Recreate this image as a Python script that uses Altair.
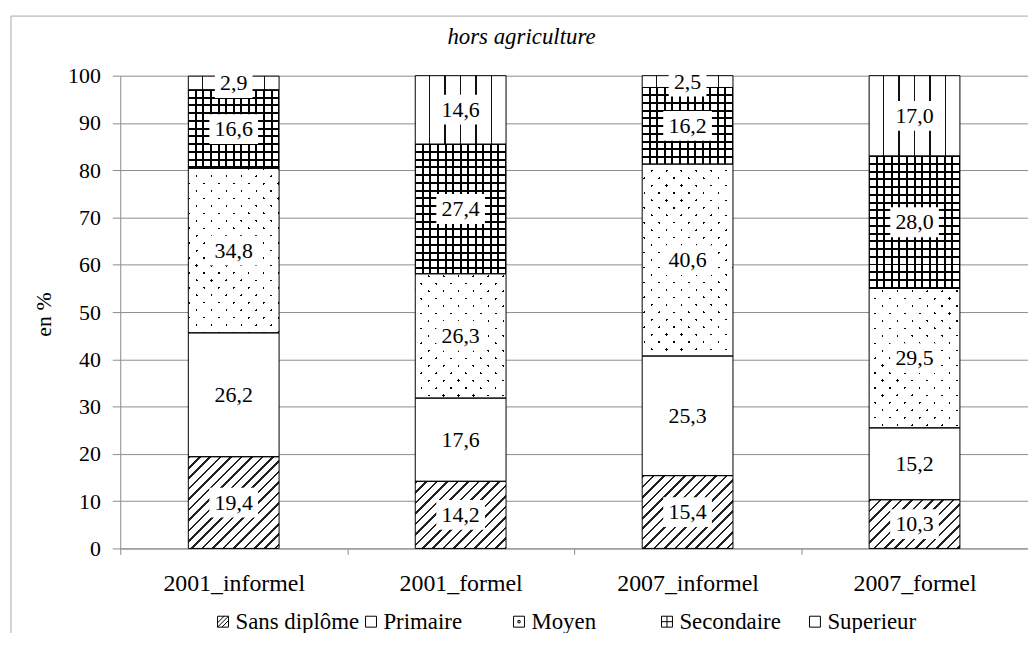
import math
import altair as alt
import pandas as pd

# ---------------- data ----------------
groupes = ["2001_informel", "2001_formel", "2007_informel", "2007_formel"]
niveaux = ["Sans diplôme", "Primaire", "Moyen", "Secondaire", "Superieur"]
sans_diplome = [19.4, 14.2, 15.4, 10.3]
primaire = [26.2, 17.6, 25.3, 15.2]
moyen = [34.8, 26.3, 40.6, 29.5]
secondaire = [16.6, 27.4, 16.2, 28.0]
superieur = [2.9, 14.6, 2.5, 17.0]
y_ticks = [0, 10, 20, 30, 40, 50, 60, 70, 80, 90, 100]
titre = "hors agriculture"
titre_y = "en %"

series = [sans_diplome, primaire, moyen, secondaire, superieur]
rows = []
for gi, g in enumerate(groupes):
    base = 0.0
    for ni, n in enumerate(niveaux):
        v = series[ni][gi]
        rows.append(dict(groupe=g, niveau=n, valeur=v, y0=round(base, 3), y1=round(base + v, 3)))
        base += v
df = pd.DataFrame(rows)

# ---------------- layout / style ----------------
GRAY = "#8c8c8c"
FONT = "Liberation Serif"
PLOT_W, PLOT_H = 914, 476
BAR_FRAC = 0.4
BAR_PX = PLOT_W / len(groupes) * BAR_FRAC
PX_PER_UNIT = PLOT_H / 100.0
CLEAR_W = "rgba(255,255,255,0)"
CLEAR_K = "rgba(0,0,0,0)"


def band_stops(n, duty, on, off, phase=0.0):
    st = [(0.0, off)]
    i = math.floor(-phase) - 1
    while True:
        a = (i + phase) / n
        b = (i + phase + duty) / n
        i += 1
        if a >= 1:
            break
        if b <= 0:
            continue
        a = max(a, 0.0)
        b = min(b, 1.0)
        st += [(a, off), (a, on), (b, on), (b, off)]
    st.append((1.0, off))
    return st


def grad(stops, x1, y1, x2, y2):
    return alt.LinearGradient(
        gradient="linear",
        stops=[alt.GradientStop(offset=round(o, 5), color=c) for o, c in stops],
        x1=round(x1, 5), y1=round(y1, 5), x2=round(x2, 5), y2=round(y2, 5),
    )


def diag_fwd(W, H, period, thick, on, off, phase=0.0):
    L = W + H
    k = L / (W * W + H * H)
    return grad(band_stops(L / period, thick / period, on, off, phase), 0, 0, k * W, k * H)


def diag_back(W, H, period, thick, on, off, phase=0.0):
    L = W + H
    k = L / (W * W + H * H)
    return grad(band_stops(L / period, thick / period, on, off, phase), 0, 1, k * W, 1 - k * H)


x_enc = alt.X(
    "groupe:N", sort=groupes,
    scale=alt.Scale(paddingInner=0, paddingOuter=0),
    axis=alt.Axis(title=None, labelAngle=0, grid=False, tickBand="extent", tickSize=6,
                  labelPadding=17, domainColor=GRAY, tickColor=GRAY, labelFontSize=24,
                  labelColor="black", labelFont=FONT),
)
y_scale = alt.Scale(domain=[0, 100], clamp=True, nice=False, zero=True)
y_axis = alt.Axis(title=titre_y, values=y_ticks, grid=True, gridColor=GRAY, domainColor=GRAY,
                  tickColor=GRAY, tickSize=8, labelPadding=12, labelFontSize=22, labelFont=FONT,
                  labelColor="black", titleFont=FONT, titleFontSize=22, titleFontWeight="normal",
                  titleColor="black", titleX=-77, titleY=240, titleBaseline="middle",
                  titleAlign="center")


def bar_layer(expr, fill):
    return alt.Chart(df).transform_filter(expr).mark_bar(
        width=alt.RelativeBandSize(BAR_FRAC), fill=fill, strokeWidth=0
    ).encode(x=x_enc, y=alt.Y("y0:Q", scale=y_scale, axis=y_axis), y2="y1:Q")


layers = []
seg = lambda g, n: f"datum.groupe === '{g}' && datum.niveau === '{n}'"

for gi, g in enumerate(groupes):
    # Sans diplome : diagonal hatching
    H = sans_diplome[gi] * PX_PER_UNIT
    layers.append(bar_layer(seg(g, "Sans diplôme"), diag_fwd(BAR_PX, H, 10.5, 2.6, "#222222", "white")))

# Primaire : plain white
layers.append(bar_layer("datum.niveau === 'Primaire'", "white"))

for gi, g in enumerate(groupes):
    # Moyen : staggered dots
    H = moyen[gi] * PX_PER_UNIT
    layers.append(bar_layer(seg(g, "Moyen"), diag_fwd(BAR_PX, H, 15, 2.3, "#000000", "white")))
    layers.append(bar_layer(seg(g, "Moyen"), diag_back(BAR_PX, H, 15, 2.3, CLEAR_W, "white")))

# Secondaire : grid
p_v = BAR_PX / 12.0
d_v = 2.0 / p_v
layers.append(bar_layer("datum.niveau === 'Secondaire'",
                        grad(band_stops(12.0, d_v, "#000000", "white", -d_v / 2), 0, 0, 1, 0)))
for gi, g in enumerate(groupes):
    H = secondaire[gi] * PX_PER_UNIT
    p_h = 7.8
    d_h = 2.0 / p_h
    layers.append(bar_layer(seg(g, "Secondaire"),
                            grad(band_stops(H / p_h, d_h, "#000000", CLEAR_K, -d_h / 2), 0, 0, 0, 1)))

# Superieur : vertical lines
half = 0.8 / BAR_PX
sup_stops = [(0.0, "white")]
for kk in range(5):
    c = 0.157 + 0.171 * kk
    sup_stops += [(c - half, "white"), (c - half, "#111111"), (c + half, "#111111"), (c + half, "white")]
sup_stops.append((1.0, "white"))
layers.append(bar_layer("datum.niveau === 'Superieur'", grad(sup_stops, 0, 0, 1, 0)))

# outlines
layers.append(alt.Chart(df).mark_bar(
    width=alt.RelativeBandSize(BAR_FRAC), fillOpacity=0, stroke="black", strokeWidth=1
).encode(x=x_enc, y=alt.Y("y0:Q", scale=y_scale, axis=y_axis), y2="y1:Q"))

lab_base = alt.Chart(df).transform_calculate(
    mid="(datum.y0 + datum.y1) / 2",
    lab="replace(format(datum.valeur, '.1f'), '.', ',')",
)

# legend symbols (hidden under label boxes)
shapes = [
    "M-1,-1H1V1H-1Z M-1,0.2L0.2,-1 M-1,1L1,-1 M-0.2,1L1,-0.2",
    "M-1,-1H1V1H-1Z",
    "M-1,-1H1V1H-1Z M-0.2,-0.2H0.2V0.2H-0.2Z",
    "M-1,-1H1V1H-1Z M0,-1V1 M-1,0H1",
    "M-1,-1H1V1H-1Z",
]
legend = alt.Legend(
    title=None, orient="none", legendX=92, legendY=538, direction="horizontal", columns=5,
    gridAlign="all", columnPadding=-5, symbolSize=121, symbolFillColor="white",
    symbolStrokeColor="black", symbolStrokeWidth=1, symbolOpacity=1, labelFont=FONT,
    labelFontSize=23, labelColor="black", labelOffset=1, labelLimit=400, padding=0,
)
layers.append(lab_base.mark_point(filled=False, color="black", strokeWidth=1, size=121,
                                  opacity=1).encode(
    x=x_enc, y=alt.Y("mid:Q", scale=y_scale, axis=y_axis),
    shape=alt.Shape("niveau:N", scale=alt.Scale(domain=niveaux, range=shapes), legend=legend),
))

# white label boxes
layers.append(lab_base.transform_filter("length(datum.lab) <= 3").mark_point(
    shape="M-1,-0.79H1V0.79H-1Z", size=38 * 38, filled=True, fill="white", opacity=1, strokeWidth=0
).encode(x=x_enc, y=alt.Y("mid:Q", scale=y_scale, axis=y_axis)))
layers.append(lab_base.transform_filter("length(datum.lab) > 3").mark_point(
    shape="M-1,-0.612H1V0.612H-1Z", size=49 * 49, filled=True, fill="white", opacity=1, strokeWidth=0
).encode(x=x_enc, y=alt.Y("mid:Q", scale=y_scale, axis=y_axis)))

# labels
layers.append(lab_base.mark_text(font=FONT, fontSize=22, color="black", baseline="middle",
                                 align="center").encode(
    x=x_enc, y=alt.Y("mid:Q", scale=y_scale, axis=y_axis), text="lab:N"))

# outer frame and chart title
frame_df = pd.DataFrame({"t": [titre]})
layers.append(alt.Chart(frame_df).mark_rule(color="#a6a6a6", strokeWidth=1).encode(
    x=alt.value(-110), x2=alt.value(PLOT_W + 30), y=alt.value(-60)))
layers.append(alt.Chart(frame_df).mark_rule(color="#a6a6a6", strokeWidth=1).encode(
    x=alt.value(-110), y=alt.value(-60), y2=alt.value(PLOT_H + 200)))
layers.append(alt.Chart(frame_df).mark_text(font=FONT, fontSize=23, fontStyle="italic",
                                            color="black", align="center",
                                            baseline="alphabetic").encode(
    x=alt.value(404), y=alt.value(-32), text="t:N"))

chart = alt.layer(*layers).properties(
    width=PLOT_W, height=PLOT_H,
    padding={"left": 113, "top": 66, "right": 0, "bottom": 83},
    autosize=alt.AutoSizeParams(type="none"),
).configure(font=FONT).configure_view(strokeWidth=0)

chart.save("out.html", embed_options={"renderer": "svg", "actions": False})
